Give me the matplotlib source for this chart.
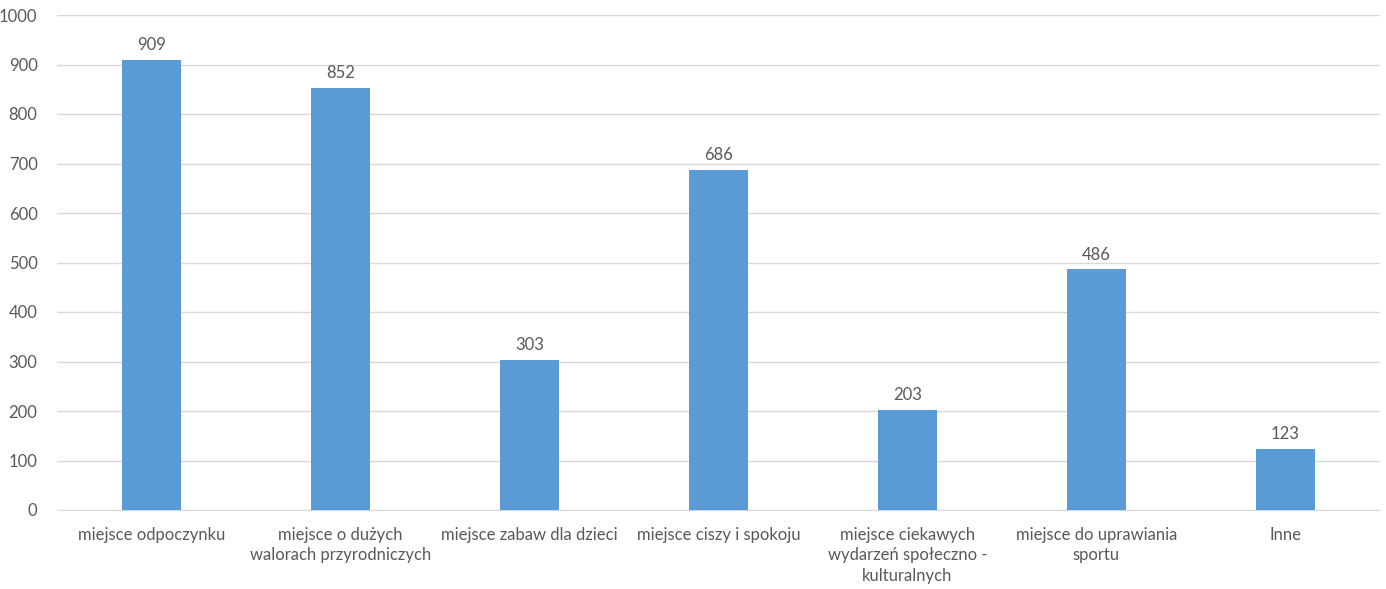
import matplotlib.pyplot as plt

categories = [
    "miejsce odpoczynku",
    "miejsce o dużych\nwalorach przyrodniczych",
    "miejsce zabaw dla dzieci",
    "miejsce ciszy i spokoju",
    "miejsce ciekawych\nwydarzeń społeczno -\nkulturalnych",
    "miejsce do uprawiania\nsportu",
    "Inne",
]
values = [909, 852, 303, 686, 203, 486, 123]

plt.rcParams['font.family'] = ['Lato', 'DejaVu Sans']
text_color = '#595959'

fig = plt.figure(figsize=(13.86, 5.89), dpi=100)
ax = fig.add_axes([57 / 1386, 1 - 510 / 589, 1323 / 1386, 495 / 589])

x = range(len(categories))
bars = ax.bar(x, values, width=0.31, color='#5B9BD5', zorder=3)

# value labels above bars
for xi, v in zip(x, values):
    ax.text(xi, v + 14, str(v), ha='center', va='bottom', fontsize=12, color=text_color)

ax.set_xlim(-0.5, 6.5)
ax.set_ylim(0, 1000)
ax.set_yticks(range(0, 1001, 100))
ax.set_xticks(list(x))
ax.set_xticklabels(categories, fontsize=12, color=text_color, linespacing=1.35)
ax.tick_params(axis='y', labelsize=12, labelcolor=text_color, length=0, pad=14)
ax.tick_params(axis='x', length=0, pad=12)

ax.grid(axis='y', color='#D9D9D9', linewidth=1, zorder=0)
for s in ['top', 'right', 'left']:
    ax.spines[s].set_visible(False)
ax.spines['bottom'].set_color('#D9D9D9')

plt.savefig('out.png', dpi=100)
